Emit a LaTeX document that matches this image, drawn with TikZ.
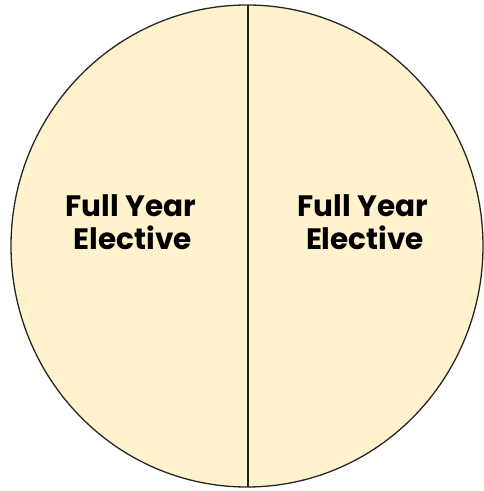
\documentclass[tikz,border=0pt]{standalone}
\usepackage{fontspec}
\setmainfont{Poppins}
\definecolor{cream}{HTML}{FFF2CC}
\begin{document}
\begin{tikzpicture}[x=1pt,y=1pt,
  lbl/.style={font=\fontsize{29.5}{33}\selectfont\bfseries, align=center, text=black, inner sep=0pt}]
\useasboundingbox (0,0) rectangle (483,491);
\coordinate (c) at (247,245);
\coordinate (top) at (248,486);
\coordinate (bot) at (248,4);
\draw[fill=cream, line width=1.3pt, draw=black!85] (c) ellipse [x radius=236, y radius=241];
\draw[line width=1.3pt, draw=black!85] (top) -- (bot);
\node[lbl, anchor=base] (l1) at (131,274) {Full Year};
\node[lbl, anchor=base] (l2) at (133,241) {Elective};
\node[lbl, anchor=base] (r1) at (363,274) {Full Year};
\node[lbl, anchor=base] (r2) at (365,241) {Elective};
\end{tikzpicture}
\end{document}
